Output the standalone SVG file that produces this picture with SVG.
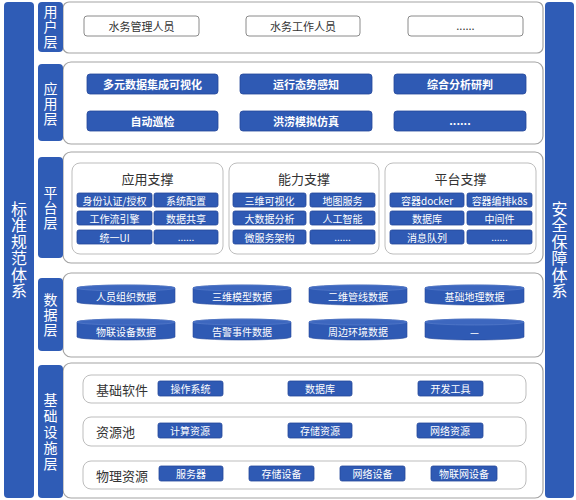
<svg xmlns="http://www.w3.org/2000/svg" width="576" height="500" viewBox="0 0 576 500">
<defs>
<style>
text{font-family:"Noto Sans CJK SC","Noto Sans",sans-serif;text-anchor:middle;dominant-baseline:central}
.bar{fill:#2f5cb6}
.lab{fill:#2f5cb6}
.frame{fill:#fff;stroke:#a3a3a3;stroke-width:1.2}
.panel{fill:#fff;stroke:#bdbdbd;stroke-width:1}
.wbox{fill:#fff;stroke:#8a8a8a;stroke-width:1}
.bbox{fill:#2f5ab4;stroke:#25489a;stroke-width:0.8}
.cyl{fill:#2f5ab4;stroke:#25489a;stroke-width:0.6}
.cyltop{fill:#3d67bf;stroke:#5a80cc;stroke-width:0.6}
.vt{fill:#fff;font-size:16px;writing-mode:vertical-rl;dominant-baseline:auto;letter-spacing:0.5px}
.lt{fill:#fff;font-size:14px;writing-mode:vertical-rl;dominant-baseline:auto;letter-spacing:1px}
.lt5{letter-spacing:2px}
.dt{fill:#333;font-size:11px}
.wt{fill:#fff;font-size:11px;font-weight:bold}
.st{fill:#fff;font-size:10px}
.pt{fill:#333;font-size:13px}
.rt{fill:#333;font-size:13px;text-anchor:start}
</style>
</defs>

<g id="side-left">
<rect class="bar" x="4" y="2" width="30" height="496" rx="4"/>
<text class="vt" x="19" y="250">标准规范体系</text>
</g>
<g id="side-right">
<rect class="bar" x="545" y="2" width="29" height="496" rx="4"/>
<text class="vt" x="559.5" y="250">安全保障体系</text>
</g>

<g id="layer-user">
<rect class="frame" x="63" y="2" width="480" height="51" rx="6"/>
<rect class="lab" x="38" y="2" width="25" height="50" rx="4"/>
<text class="lt" x="50.5" y="27">用户层</text>
<rect class="wbox" x="84" y="16" width="115" height="20" rx="3"/><text class="dt" x="141.5" y="26">水务管理人员</text>
<rect class="wbox" x="246" y="16" width="114" height="20" rx="3"/><text class="dt" x="303" y="26">水务工作人员</text>
<rect class="wbox" x="408" y="16" width="115" height="20" rx="3"/><text class="dt" x="465.5" y="25">......</text>
</g>

<g id="layer-app">
<rect class="frame" x="63" y="62" width="480" height="82" rx="8"/>
<rect class="lab" x="38" y="64" width="25" height="77" rx="4"/>
<text class="lt" x="50.5" y="104">应用层</text>
<rect class="bbox" x="87" y="74" width="131" height="20" rx="3"/><text class="wt" x="152.5" y="84">多元数据集成可视化</text>
<rect class="bbox" x="240" y="74" width="132" height="20" rx="3"/><text class="wt" x="306" y="84">运行态势感知</text>
<rect class="bbox" x="394" y="74" width="132" height="20" rx="3"/><text class="wt" x="460" y="84">综合分析研判</text>
<rect class="bbox" x="87" y="111" width="131" height="20" rx="3"/><text class="wt" x="152.5" y="121">自动巡检</text>
<rect class="bbox" x="240" y="111" width="132" height="20" rx="3"/><text class="wt" x="306" y="121">洪涝模拟仿真</text>
<rect class="bbox" x="394" y="111" width="132" height="20" rx="3"/><text class="wt" x="460" y="120">......</text>
</g>

<g id="layer-platform">
<rect class="frame" x="63" y="152" width="480" height="111" rx="8"/>
<rect class="lab" x="38" y="157" width="25" height="101" rx="4"/>
<text class="lt" x="50.5" y="208">平台层</text>
<g id="panel-app-support">
<rect class="panel" x="72" y="163" width="151" height="91" rx="8"/>
<text class="pt" x="147.5" y="178">应用支撑</text>
<rect class="bbox" x="77" y="193" width="75" height="14" rx="2"/><text class="st" x="114.5" y="200">身份认证/授权</text>
<rect class="bbox" x="154" y="193" width="64" height="14" rx="2"/><text class="st" x="186" y="200">系统配置</text>
<rect class="bbox" x="77" y="211" width="75" height="14" rx="2"/><text class="st" x="114.5" y="218">工作流引擎</text>
<rect class="bbox" x="154" y="211" width="64" height="14" rx="2"/><text class="st" x="186" y="218">数据共享</text>
<rect class="bbox" x="77" y="230" width="75" height="14" rx="2"/><text class="st" x="114.5" y="237">统一UI</text>
<rect class="bbox" x="154" y="230" width="64" height="14" rx="2"/><text class="st" x="186" y="236">......</text>
</g>
<g id="panel-ability-support">
<rect class="panel" x="229" y="163" width="150" height="91" rx="8"/>
<text class="pt" x="304" y="178">能力支撑</text>
<rect class="bbox" x="233" y="193" width="73" height="14" rx="2"/><text class="st" x="269.5" y="200">三维可视化</text>
<rect class="bbox" x="310" y="193" width="65" height="14" rx="2"/><text class="st" x="342.5" y="200">地图服务</text>
<rect class="bbox" x="233" y="211" width="73" height="14" rx="2"/><text class="st" x="269.5" y="218">大数据分析</text>
<rect class="bbox" x="310" y="211" width="65" height="14" rx="2"/><text class="st" x="342.5" y="218">人工智能</text>
<rect class="bbox" x="233" y="230" width="73" height="14" rx="2"/><text class="st" x="269.5" y="237">微服务架构</text>
<rect class="bbox" x="310" y="230" width="65" height="14" rx="2"/><text class="st" x="342.5" y="236">......</text>
</g>
<g id="panel-platform-support">
<rect class="panel" x="385" y="163" width="151" height="91" rx="8"/>
<text class="pt" x="460.5" y="178">平台支撑</text>
<rect class="bbox" x="390" y="193" width="74" height="14" rx="2"/><text class="st" x="427" y="200">容器docker</text>
<rect class="bbox" x="467" y="193" width="65" height="14" rx="2"/><text class="st" x="499.5" y="200">容器编排k8s</text>
<rect class="bbox" x="390" y="211" width="74" height="14" rx="2"/><text class="st" x="427" y="218">数据库</text>
<rect class="bbox" x="467" y="211" width="65" height="14" rx="2"/><text class="st" x="499.5" y="218">中间件</text>
<rect class="bbox" x="390" y="230" width="74" height="14" rx="2"/><text class="st" x="427" y="237">消息队列</text>
<rect class="bbox" x="467" y="230" width="65" height="14" rx="2"/><text class="st" x="499.5" y="236">......</text>
</g>
</g>

<g id="layer-data">
<rect class="frame" x="63" y="273" width="480" height="84" rx="8"/>
<rect class="lab" x="38" y="278" width="25" height="73" rx="4"/>
<text class="lt" x="50.5" y="315">数据层</text>
<g id="cyl-1"><path class="cyl" d="M77,288 A49,3 0 0 1 175,288 L175,302 A49,3 0 0 1 77,302 Z"/><ellipse class="cyltop" cx="126" cy="288" rx="49" ry="3"/><text class="st" x="126" y="296">人员组织数据</text></g>
<g id="cyl-2"><path class="cyl" d="M193,288 A49,3 0 0 1 291,288 L291,302 A49,3 0 0 1 193,302 Z"/><ellipse class="cyltop" cx="242" cy="288" rx="49" ry="3"/><text class="st" x="242" y="296">三维模型数据</text></g>
<g id="cyl-3"><path class="cyl" d="M309,288 A49,3 0 0 1 407,288 L407,302 A49,3 0 0 1 309,302 Z"/><ellipse class="cyltop" cx="358" cy="288" rx="49" ry="3"/><text class="st" x="358" y="296">二维管线数据</text></g>
<g id="cyl-4"><path class="cyl" d="M425,288 A49.5,3 0 0 1 524,288 L524,302 A49.5,3 0 0 1 425,302 Z"/><ellipse class="cyltop" cx="474.5" cy="288" rx="49.5" ry="3"/><text class="st" x="474.5" y="296">基础地理数据</text></g>
<g id="cyl-5"><path class="cyl" d="M77,322 A49,3 0 0 1 175,322 L175,337 A49,3 0 0 1 77,337 Z"/><ellipse class="cyltop" cx="126" cy="322" rx="49" ry="3"/><text class="st" x="126" y="331">物联设备数据</text></g>
<g id="cyl-6"><path class="cyl" d="M193,322 A49,3 0 0 1 291,322 L291,337 A49,3 0 0 1 193,337 Z"/><ellipse class="cyltop" cx="242" cy="322" rx="49" ry="3"/><text class="st" x="242" y="331">告警事件数据</text></g>
<g id="cyl-7"><path class="cyl" d="M309,322 A49,3 0 0 1 407,322 L407,337 A49,3 0 0 1 309,337 Z"/><ellipse class="cyltop" cx="358" cy="322" rx="49" ry="3"/><text class="st" x="358" y="331">周边环境数据</text></g>
<g id="cyl-8"><path class="cyl" d="M425,322 A49.5,3 0 0 1 524,322 L524,337 A49.5,3 0 0 1 425,337 Z"/><ellipse class="cyltop" cx="474.5" cy="322" rx="49.5" ry="3"/><text class="st" x="474.5" y="331">—</text></g>
</g>

<g id="layer-infra">
<rect class="frame" x="63" y="363" width="480" height="135" rx="8"/>
<rect class="lab" x="38" y="365" width="25" height="133" rx="4"/>
<text class="lt lt5" x="50.5" y="433">基础设施层</text>
<g id="row-software">
<rect class="panel" x="83" y="375" width="443" height="28" rx="8"/>
<text class="rt" x="96" y="389">基础软件</text>
<rect class="bbox" x="158" y="381" width="65" height="15" rx="2"/><text class="st" x="190.5" y="388.5">操作系统</text>
<rect class="bbox" x="288" y="381" width="64" height="15" rx="2"/><text class="st" x="320" y="388.5">数据库</text>
<rect class="bbox" x="418" y="381" width="65" height="15" rx="2"/><text class="st" x="450.5" y="388.5">开发工具</text>
</g>
<g id="row-pool">
<rect class="panel" x="83" y="417" width="443" height="29" rx="8"/>
<text class="rt" x="96" y="431">资源池</text>
<rect class="bbox" x="158" y="423" width="64" height="15" rx="2"/><text class="st" x="190" y="430.5">计算资源</text>
<rect class="bbox" x="288" y="423" width="64" height="15" rx="2"/><text class="st" x="320" y="430.5">存储资源</text>
<rect class="bbox" x="417" y="423" width="66" height="15" rx="2"/><text class="st" x="450" y="430.5">网络资源</text>
</g>
<g id="row-physical">
<rect class="panel" x="83" y="461" width="443" height="28" rx="8"/>
<text class="rt" x="96" y="475">物理资源</text>
<rect class="bbox" x="159" y="466" width="64" height="15" rx="2"/><text class="st" x="191" y="473.5">服务器</text>
<rect class="bbox" x="249" y="466" width="65" height="15" rx="2"/><text class="st" x="281.5" y="473.5">存储设备</text>
<rect class="bbox" x="340" y="466" width="65" height="15" rx="2"/><text class="st" x="372.5" y="473.5">网络设备</text>
<rect class="bbox" x="431" y="466" width="66" height="15" rx="2"/><text class="st" x="464" y="473.5">物联网设备</text>
</g>
</g>

<g id="connectors"></g>
</svg>
